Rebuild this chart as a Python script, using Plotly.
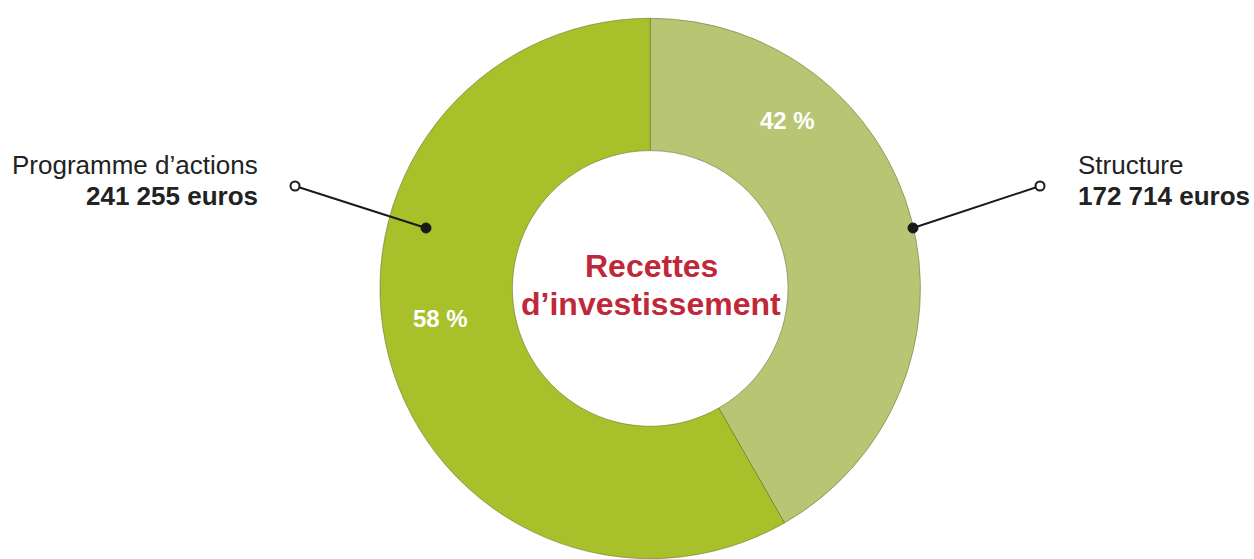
import plotly.graph_objects as go

labels = ["Structure", "Programme d'actions"]
values = [172714, 241255]
amount_text = ["172 714 euros", "241 255 euros"]
colors = ["#B8C572", "#A8C02A"]
center_title = ["Recettes", "d’investissement"]

W, H = 1254, 559
total = sum(values)
pcts = [round(v / total * 100) for v in values]

fig = go.Figure()
fig.add_trace(go.Pie(
    labels=labels, values=values, sort=False, direction="clockwise", rotation=0,
    hole=0.51, textinfo="none", hoverinfo="label+value+percent",
    marker=dict(colors=colors, line=dict(color="rgba(90,100,40,0.5)", width=1)),
    domain=dict(x=[0.303, 0.734], y=[0.0, 0.968]), showlegend=False,
))

# invisible pixel-space axes for annotations/leader decorations
fig.add_trace(go.Scatter(x=[0, W], y=[0, H], mode="markers", marker=dict(opacity=0),
                         hoverinfo="skip", showlegend=False))
fig.update_xaxes(range=[0, W], visible=False, domain=[0, 1], fixedrange=True)
fig.update_yaxes(range=[H, 0], visible=False, domain=[0, 1], fixedrange=True)

leaders = [
    dict(dot=(913, 228), end=(1040, 186)),
    dict(dot=(426, 228), end=(295, 186)),
]
shapes = []
for ld in leaders:
    (x0, y0), (x1, y1) = ld["dot"], ld["end"]
    shapes.append(dict(type="line", x0=x0, y0=y0, x1=x1, y1=y1,
                       line=dict(color="#1a1a1a", width=2)))
    shapes.append(dict(type="circle", x0=x0 - 5, y0=y0 - 5, x1=x0 + 5, y1=y0 + 5,
                       fillcolor="#1a1a1a", line=dict(color="#1a1a1a", width=1)))
    shapes.append(dict(type="circle", x0=x1 - 4.5, y0=y1 - 4.5, x1=x1 + 4.5, y1=y1 + 4.5,
                       fillcolor="white", line=dict(color="#1a1a1a", width=2)))
for s in shapes:
    s.update(xref="x", yref="y", layer="above")

font_main = "Liberation Sans, Arial, Helvetica, sans-serif"
ann = []
# right label (Structure)
ann.append(dict(x=1076, y=165, text=labels[0], xanchor="left", yanchor="middle",
                font=dict(size=26, color="#222222", family=font_main)))
ann.append(dict(x=1076, y=196, text="<b>" + amount_text[0] + "</b>", xanchor="left", yanchor="middle",
                font=dict(size=26, color="#222222", family=font_main)))
# left label (Programme d'actions)
ann.append(dict(x=260, y=165, text=labels[1].replace("'", "’"), xanchor="right", yanchor="middle",
                font=dict(size=26, color="#222222", family=font_main)))
ann.append(dict(x=260, y=196, text="<b>" + amount_text[1] + "</b>", xanchor="right", yanchor="middle",
                font=dict(size=26, color="#222222", family=font_main)))
# percentages
ann.append(dict(x=787, y=120, text=f"<b>{pcts[0]} %</b>", xanchor="center", yanchor="middle",
                font=dict(size=24, color="white", family=font_main)))
ann.append(dict(x=440, y=318, text=f"<b>{pcts[1]} %</b>", xanchor="center", yanchor="middle",
                font=dict(size=24, color="white", family=font_main)))
# center title
ann.append(dict(x=651, y=266, text="<b>" + center_title[0] + "</b>", xanchor="center", yanchor="middle",
                font=dict(size=32, color="#C0283A", family=font_main)))
ann.append(dict(x=651, y=304, text="<b>" + center_title[1] + "</b>", xanchor="center", yanchor="middle",
                font=dict(size=32, color="#C0283A", family=font_main)))
for a in ann:
    a.update(xref="x", yref="y", showarrow=False)

fig.update_layout(width=W, height=H, margin=dict(l=0, r=0, t=0, b=0),
                  paper_bgcolor="white", plot_bgcolor="rgba(0,0,0,0)",
                  annotations=ann, shapes=shapes)
fig.write_html("out.html", config={"displayModeBar": False},
               post_script="document.body.style.margin='0';document.body.style.overflow='hidden';")
